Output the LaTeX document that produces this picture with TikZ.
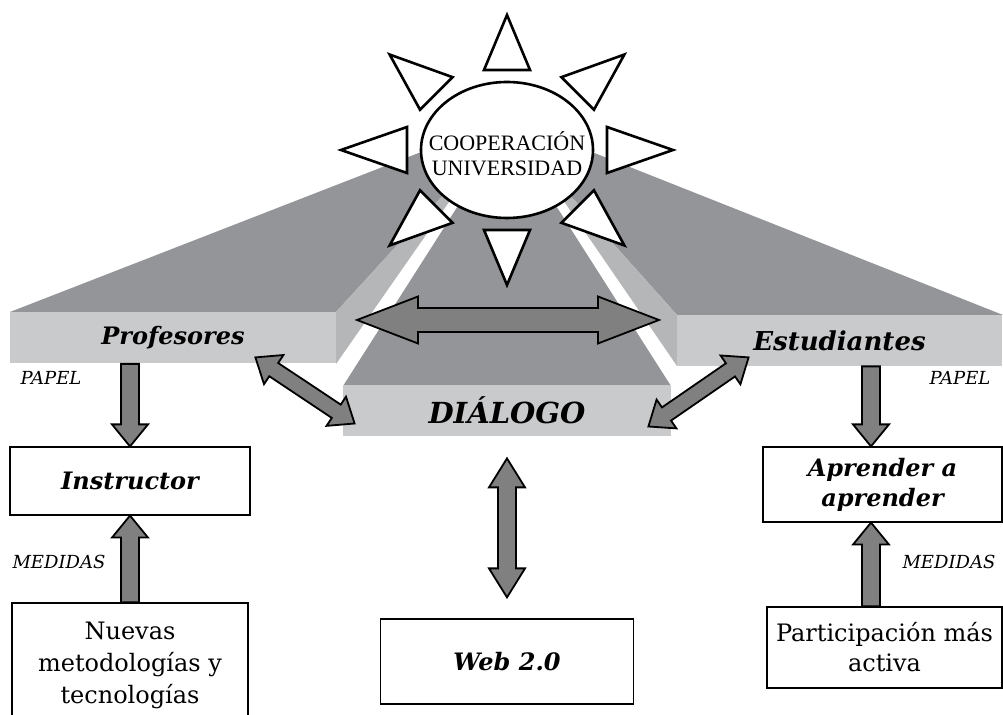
\documentclass[tikz,border=0pt]{standalone}
\usepackage{fontspec}
\setmainfont{DejaVu Serif}
\newfontfamily\timesfont{Liberation Serif}
\usetikzlibrary{calc,shapes.geometric}

\definecolor{topgray}{HTML}{939598}
\definecolor{sidegray}{HTML}{B5B6B8}
\definecolor{frontgray}{HTML}{C9CACC}
\definecolor{arrowgray}{HTML}{808080}

\newcommand\bandfont{\fontsize{12.5}{15}\selectfont\bfseries\itshape}
\newcommand\boxfont{\fontsize{12}{15}\selectfont\bfseries\itshape}
\newcommand\bodyfont{\fontsize{12}{16}\selectfont}
\newcommand\tagfont{\fontsize{9}{11}\selectfont\itshape}
\newcommand\sunfont{\timesfont\fontsize{11}{12.5}\selectfont}

\tikzset{
    band/.style={fill=frontgray, minimum width=#1, minimum height=25.5pt, inner sep=0pt, font=\bandfont},
    infobox/.style={draw, line width=0.6pt, fill=white, align=center, inner sep=0pt},
    tagtext/.style={font=\tagfont},
    sunray/.style={draw, line width=1.3pt, fill=white, line join=miter},
    arrowbody/.style={draw=black, line width=0.9pt, fill=arrowgray},
    dblarrow/.style args={#1/#2/#3}{arrowbody, to path={
        let \p1=(\tikztostart), \p2=(\tikztotarget),
            \n1={atan2(\y2-\y1,\x2-\x1)} in
        -- ($(\p1)+(\n1:#1)+(\n1+90:#2)$)
        -- ($(\p1)+(\n1:#1)+(\n1+90:#3)$)
        -- ($(\p2)+(\n1+180:#1)+(\n1+90:#3)$)
        -- ($(\p2)+(\n1+180:#1)+(\n1+90:#2)$)
        -- (\p2)
        -- ($(\p2)+(\n1+180:#1)+(\n1-90:#2)$)
        -- ($(\p2)+(\n1+180:#1)+(\n1-90:#3)$)
        -- ($(\p1)+(\n1:#1)+(\n1-90:#3)$)
        -- ($(\p1)+(\n1:#1)+(\n1-90:#2)$)
        -- cycle}},
    sglarrow/.style args={#1/#2/#3}{arrowbody, to path={
        let \p1=(\tikztostart), \p2=(\tikztotarget),
            \n1={atan2(\y2-\y1,\x2-\x1)} in
        -- ($(\p1)+(\n1+90:#3)$)
        -- ($(\p2)+(\n1+180:#1)+(\n1+90:#3)$)
        -- ($(\p2)+(\n1+180:#1)+(\n1+90:#2)$)
        -- (\p2)
        -- ($(\p2)+(\n1+180:#1)+(\n1-90:#2)$)
        -- ($(\p2)+(\n1+180:#1)+(\n1-90:#3)$)
        -- ($(\p1)+(\n1-90:#3)$)
        -- cycle}},
}

\begin{document}
\begin{tikzpicture}[x=0.5pt, y=-0.5pt]
        \useasboundingbox (0,0) rectangle (1003,715);
        \clip (0,0) rectangle (1003,715);

        \fill[topgray] (10,312) -- (336,312) -- (488,146) -- (470,133) -- cycle;
        \fill[sidegray] (336,312) -- (336,364) -- (488,146) -- cycle;
        \fill[topgray] (1003,315) -- (677,315) -- (526,146) -- (544,133) -- cycle;
        \fill[sidegray] (677,315) -- (677,366) -- (526,146) -- cycle;
        \fill[topgray] (343,386) -- (671,386) -- (514,140) -- (500,140) -- cycle;

        \node[band=163pt, font=\bandfont\fontsize{12}{15}\selectfont] (prof) at (173,338) {Profesores};
        \node[band=162.5pt, font=\bandfont\fontsize{13}{15}\selectfont] (est) at (839.5,340.5) {Estudiantes};
        \node[band=164pt, font=\bandfont\fontsize{14.5}{16}\selectfont] (dial) at (507,410.5) {DIÁLOGO};

        \node[infobox, minimum width=120pt, minimum height=34pt, font=\boxfont] (instr) at (130,481) {Instructor};
        \node[infobox, minimum width=119.5pt, minimum height=37.5pt, font=\boxfont] (apr) at (882.5,484.5) {Aprender a\\aprender};
        \node[infobox, minimum width=118pt, minimum height=62pt, font=\bodyfont] (nuevas) at (130,665) {Nuevas\\metodologías y\\tecnologías};
        \node[infobox, minimum width=126.5pt, minimum height=42.5pt, font=\boxfont] (web) at (507,661.5) {Web 2.0};
        \node[infobox, minimum width=117.5pt, minimum height=40.5pt, font=\bodyfont\fontsize{12}{15}\selectfont] (part) at (884.5,647.5) {Participación más\\activa};

        \node[tagtext] (papl) at (51,378) {PAPEL};
        \node[tagtext] (papr) at (960,378) {PAPEL};
        \node[tagtext] (medl) at (59,562) {MEDIDAS};
        \node[tagtext] (medr) at (949,562) {MEDIDAS};

        \coordinate (rcol) at (871,0);
        \coordinate (hl) at (357,320);
        \coordinate (hr) at (659,320);

        \draw[dblarrow=30.5pt/11.75pt/6pt] (hl) to (hr);
        \draw[dblarrow=11pt/8.75pt/4pt] ([xshift=-40.5pt,yshift=3.25pt]prof.south east) to ([xshift=6pt,yshift=-6.5pt]dial.west);
        \draw[dblarrow=11pt/8.75pt/4pt] ([xshift=36pt,yshift=4.5pt]est.south west) to ([xshift=-11.5pt,yshift=-8pt]dial.east);
        \draw[dblarrow=14.5pt/9pt/4.5pt] ([yshift=-11pt]dial.south) to ([yshift=10.5pt]web.north);
        \draw[sglarrow=11pt/9pt/4.5pt] (instr.north |- prof.south) to (instr.north);
        \draw[sglarrow=11pt/9pt/4.5pt] (nuevas.north) to (instr.south);
        \draw[sglarrow=11pt/9pt/4.5pt] (rcol |- est.south) to (rcol |- apr.north);
        \draw[sglarrow=11pt/9pt/4.5pt] (rcol |- part.north) to (rcol |- apr.south);

        \foreach \a in {0,45,...,315}
        {
            \draw[sunray] ({507+166*cos(\a)},{150+135*sin(\a)})
                -- ({507+100*cos(\a)+23*sin(\a)},{150+80*sin(\a)-23*cos(\a)})
                -- ({507+100*cos(\a)-23*sin(\a)},{150+80*sin(\a)+23*cos(\a)}) -- cycle;
        }
        \node[ellipse, draw, line width=1.3pt, fill=white, minimum width=86pt, minimum height=68pt, inner sep=0pt,
            label={[font=\sunfont, align=center, yshift=-2pt]center:COOPERACIÓN\\UNIVERSIDAD}] (coop) at (507,150) {};
\end{tikzpicture}
\end{document}
